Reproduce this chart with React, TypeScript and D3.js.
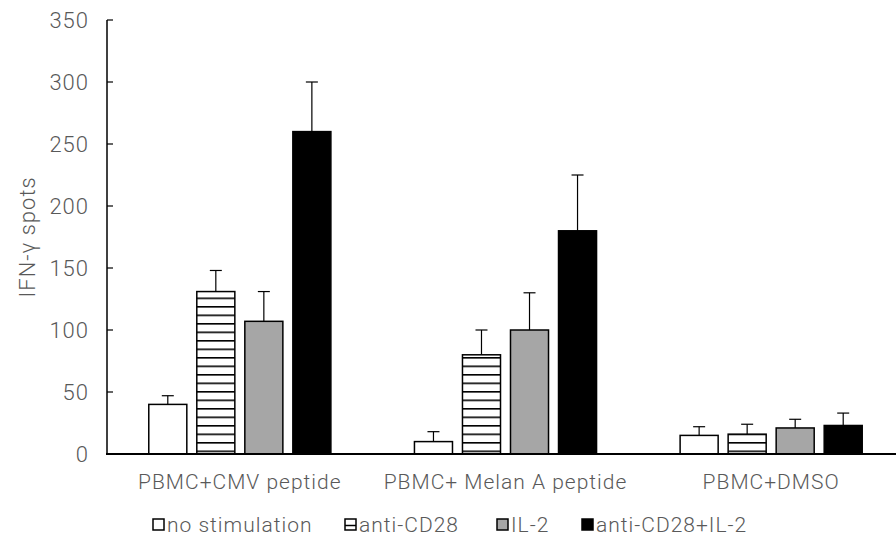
import React, { useEffect, useRef } from 'react';
import * as d3 from 'd3';

const categories = ['PBMC+CMV peptide', 'PBMC+ Melan A peptide', 'PBMC+DMSO'];
const series = ['no stimulation', 'anti-CD28', 'IL-2', 'anti-CD28+IL-2'];
// values per series, one per category
const noStim = [40, 10, 15];
const antiCD28 = [131, 80, 16];
const il2 = [107, 100, 21];
const antiCD28IL2 = [260, 180, 23];
// top of error bar per series
const noStimErr = [47, 18, 22];
const antiCD28Err = [148, 100, 24];
const il2Err = [131, 130, 28];
const antiCD28IL2Err = [300, 225, 33];
const yTicks = [0, 50, 100, 150, 200, 250, 300, 350];

const values = [noStim, antiCD28, il2, antiCD28IL2];
const errTops = [noStimErr, antiCD28Err, il2Err, antiCD28IL2Err];
const fills = ['#ffffff', 'url(#stripes)', '#a6a6a6', '#000000'];

const FONT = 'Roboto, "Noto Sans", sans-serif';
const GREY = '#595959';

const App = () => {
  const ref = useRef<SVGSVGElement>(null);

  useEffect(() => {
    const svg = d3.select(ref.current);
    svg.selectAll('*').remove();

    const defs = svg.append('defs');
    const pat = defs
      .append('pattern')
      .attr('id', 'stripes')
      .attr('patternUnits', 'userSpaceOnUse')
      .attr('width', 8)
      .attr('height', 8.5);
    pat.append('rect').attr('width', 8).attr('height', 8.5).attr('fill', '#fff');
    pat.append('rect').attr('y', 0).attr('width', 8).attr('height', 1.6).attr('fill', '#000');

    const x = d3.scaleBand().domain(categories).range([107, 904]);
    const xi = d3
      .scaleBand()
      .domain(series)
      .range([0, x.bandwidth()])
      .paddingInner(0.208)
      .paddingOuter(0.87);
    const y = d3.scaleLinear().domain([0, 350]).range([454, 20]);

    const txt = (sel: any, size: number) =>
      sel
        .style('font-family', FONT)
        .style('font-weight', 300)
        .style('font-size', `${size}px`)
        .style('letter-spacing', '1px')
        .attr('fill', GREY);

    // y axis
    const yAxis = svg.append('g').attr('transform', 'translate(107,0)');
    yAxis.append('line').attr('y1', y(350)).attr('y2', y(0)).attr('stroke', '#000').attr('stroke-width', 1.5);
    yAxis
      .selectAll('line.tick')
      .data(yTicks)
      .enter()
      .append('line')
      .attr('class', 'tick')
      .attr('x1', 0)
      .attr('x2', 6)
      .attr('y1', d => y(d))
      .attr('y2', d => y(d))
      .attr('stroke', '#000')
      .attr('stroke-width', 1.2);
    txt(
      yAxis
        .selectAll('text')
        .data(yTicks)
        .enter()
        .append('text')
        .attr('x', -18)
        .attr('y', d => y(d))
        .attr('dy', '0.36em')
        .attr('text-anchor', 'end')
        .text(d => d),
      22
    );

    txt(
      svg
        .append('text')
        .attr('transform', `translate(35,${(y(0) + y(350)) / 2}) rotate(-90)`)
        .attr('text-anchor', 'middle')
        .text('IFN-γ spots'),
      22
    );

    // bars
    series.forEach((s, si) => {
      const g = svg.append('g');
      const cx = (c: string) => x(c)! + xi(s)! + xi.bandwidth() / 2;
      g.selectAll('line.err')
        .data(categories)
        .enter()
        .append('line')
        .attr('x1', cx)
        .attr('x2', cx)
        .attr('y1', (c, i) => y(values[si][i]))
        .attr('y2', (c, i) => y(errTops[si][i]))
        .attr('stroke', '#000')
        .attr('stroke-width', 1.2);
      g.selectAll('line.cap')
        .data(categories)
        .enter()
        .append('line')
        .attr('x1', c => cx(c) - 6)
        .attr('x2', c => cx(c) + 6)
        .attr('y1', (c, i) => y(errTops[si][i]))
        .attr('y2', (c, i) => y(errTops[si][i]))
        .attr('stroke', '#000')
        .attr('stroke-width', 1.2);
      g.selectAll('rect')
        .data(categories)
        .enter()
        .append('rect')
        .attr('x', c => x(c)! + xi(s)!)
        .attr('y', (c, i) => y(values[si][i]))
        .attr('width', xi.bandwidth())
        .attr('height', (c, i) => y(0) - y(values[si][i]))
        .attr('fill', fills[si])
        .attr('stroke', '#000')
        .attr('stroke-width', 1.5);
    });

    // x axis baseline
    svg.append('line').attr('x1', 106).attr('x2', 896).attr('y1', y(0)).attr('y2', y(0)).attr('stroke', '#000').attr('stroke-width', 2);

    txt(
      svg
        .selectAll('text.cat')
        .data(categories)
        .enter()
        .append('text')
        .attr('class', 'cat')
        .attr('x', c => x(c)! + x.bandwidth() / 2)
        .attr('y', 489)
        .attr('text-anchor', 'middle')
        .text(c => c),
      21
    );

    // legend
    const legendX = [153, 345, 497, 582];
    const leg = svg
      .selectAll('g.leg')
      .data(series)
      .enter()
      .append('g')
      .attr('class', 'leg')
      .attr('transform', (d, i) => `translate(${legendX[i]},519)`);
    leg
      .append('rect')
      .attr('width', 11)
      .attr('height', 11)
      .attr('fill', (d, i) => (i === 1 ? '#fff' : fills[i]))
      .attr('stroke', '#000')
      .attr('stroke-width', 1.5);
    leg
      .filter((d, i) => i === 1)
      .append('line')
      .attr('x1', 0)
      .attr('x2', 11)
      .attr('y1', 6.5)
      .attr('y2', 6.5)
      .attr('stroke', '#000')
      .attr('stroke-width', 1.5);
    txt(
      leg
        .append('text')
        .attr('x', 14)
        .attr('y', 13)
        .text(d => d),
      21
    );
  }, []);

  return (
    <svg
      ref={ref}
      width={896}
      height={547}
      style={{ position: 'absolute', left: 0, top: 0, background: '#fff' }}
    />
  );
};

export default App;
